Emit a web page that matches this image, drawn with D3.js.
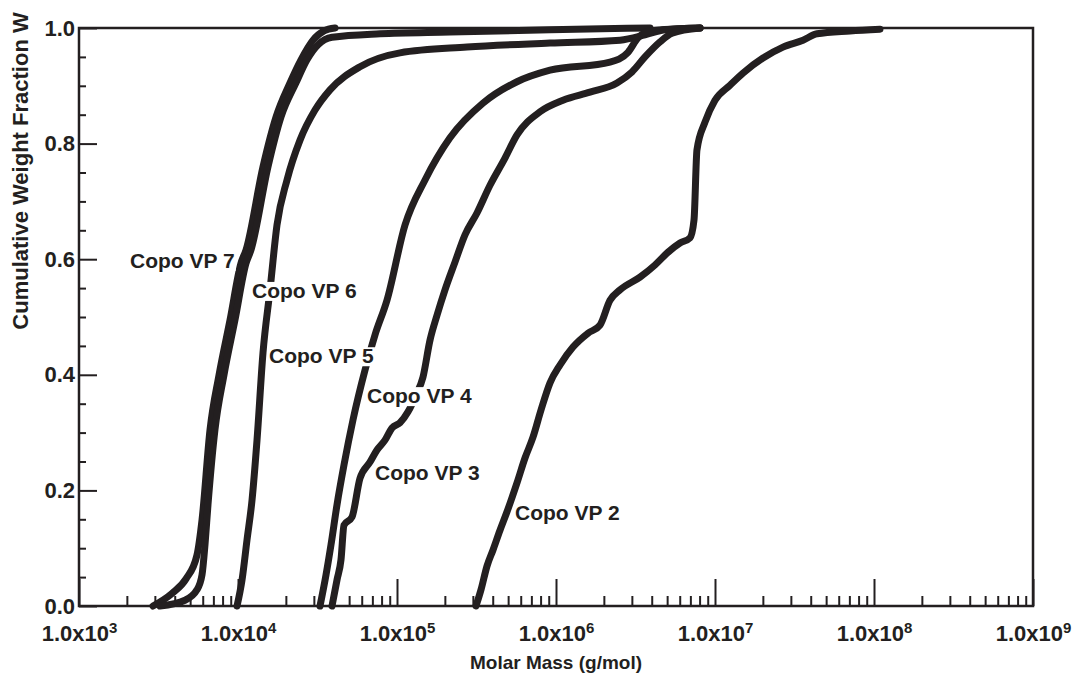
<!DOCTYPE html>
<html>
<head>
<meta charset="utf-8">
<script src="https://cdn.jsdelivr.net/npm/d3@7"></script>
<style>
  body { margin: 0; background: #fff; }
  svg { display: block; font-family: "Liberation Sans", Arial, sans-serif; font-weight: bold; }
</style>
</head>
<body>
<svg id="chart" width="1078" height="677"></svg>
<script>
// [molar mass g/mol, cumulative weight fraction]
const vp7 = [
  [2920, 0], [3850, 0.022], [4710, 0.047], [5520, 0.088], [5940, 0.149], [6670, 0.305],
  [7600, 0.400], [8910, 0.495], [10440, 0.593], [11230, 0.616], [14360, 0.760], [17340, 0.846],
  [21230, 0.905], [24900, 0.945], [29630, 0.979], [34740, 0.995], [40750, 1.0]
];
const vp6 = [
  [3230, 0], [4640, 0.010], [5520, 0.028], [5940, 0.054], [6200, 0.106], [6475, 0.175],
  [7165, 0.305], [8165, 0.400], [9575, 0.495], [11230, 0.593], [12070, 0.616], [15445, 0.760],
  [18640, 0.846], [23160, 0.905], [27160, 0.945], [31860, 0.971], [39010, 0.984], [78200, 0.990],
  [215400, 0.993], [917000, 0.997], [3.9e6, 1.0]
];
const vp5 = [
  [9860, 0], [10600, 0.045], [11390, 0.114], [12250, 0.183], [13170, 0.287], [14360, 0.438],
  [15900, 0.547], [17590, 0.659], [20330, 0.737], [24550, 0.806], [30500, 0.858], [37900, 0.893],
  [58520, 0.933], [104400, 0.957], [275600, 0.967], [917000, 0.974], [2.53e6, 0.979],
  [3.63e6, 0.988], [4.85e6, 0.997], [8.05e6, 1.0]
];
const vp4 = [
  [32790, 0], [35770, 0.054], [38450, 0.106], [41940, 0.175], [46420, 0.244], [52880, 0.322],
  [62920, 0.408], [72710, 0.469], [86500, 0.529], [112300, 0.659], [150100, 0.737],
  [215400, 0.810], [347400, 0.870], [568400, 0.907], [917000, 0.927], [2.186e6, 0.941],
  [2.837e6, 0.958], [3.278e6, 0.983], [3.9e6, 0.995], [8.05e6, 1.0]
];
const vp3 = [
  [39010, 0], [41940, 0.045], [44440, 0.080], [46420, 0.140], [52120, 0.154], [58520, 0.221],
  [67640, 0.249], [74840, 0.270], [84040, 0.287], [93020, 0.308], [104400, 0.317],
  [117300, 0.336], [131700, 0.365], [145700, 0.396], [161300, 0.460], [178500, 0.503],
  [200400, 0.547], [231600, 0.595], [267700, 0.642], [318500, 0.680], [384500, 0.728],
  [477700, 0.775], [568400, 0.815], [793200, 0.855], [1.107e6, 0.875], [1.636e6, 0.889],
  [2.419e6, 0.905], [3.006e6, 0.924], [3.628e6, 0.950], [4.51e6, 0.976], [5.365e6, 0.991],
  [8.05e6, 1.0]
];
const vp2 = [
  [314000, 0], [337500, 0.028], [368100, 0.069], [401700, 0.097], [444400, 0.131],
  [491800, 0.163], [568400, 0.213], [638300, 0.256], [716700, 0.292], [804900, 0.339],
  [917000, 0.386], [1.06e6, 0.417], [1.279e6, 0.448], [1.59e6, 0.472], [1.891e6, 0.486],
  [2.186e6, 0.529], [2.526e6, 0.547], [3.376e6, 0.569], [4.195e6, 0.590], [5.063e6, 0.612],
  [6.025e6, 0.628], [6.964e6, 0.637], [7.38e6, 0.668], [7.70e6, 0.789], [8.65e6, 0.837],
  [1.0e7, 0.875], [1.243e7, 0.901], [1.5e7, 0.922], [2.004e7, 0.948], [2.677e7, 0.967],
  [3.577e7, 0.979], [4.38e7, 0.990], [7.07e7, 0.995], [1.09e8, 0.998]
];

const series = [vp7, vp6, vp5, vp4, vp3, vp2];
const seriesNames = ['Copo VP 7', 'Copo VP 6', 'Copo VP 5', 'Copo VP 4', 'Copo VP 3', 'Copo VP 2'];

// where each label sits (mass, fraction at baseline)
const labelMass = [2094, 12250, 15670, 64760, 72710, 552300];
const labelFraction = [0.585, 0.533, 0.420, 0.351, 0.218, 0.149];

const xTickValues = [1e3, 1e4, 1e5, 1e6, 1e7, 1e8, 1e9];
const yTickValues = [0, 0.2, 0.4, 0.6, 0.8, 1.0];

const ink = '#231f20';
const margin = { top: 28, left: 79 };
const width = 954;
const height = 578;

const svg = d3.select('#chart');
const g = svg.append('g')
    .attr('transform', `translate(${margin.left},${margin.top})`);

const x = d3.scaleLog().domain([1e3, 1e9]).range([0, width]);
const y = d3.scaleLinear().domain([0, 1]).range([height, 0]);

// minor ticks
const xMinor = d3.range(3, 9).flatMap((e) => d3.range(2, 10).map((m) => m * 10 ** e));
const yMinor = d3.range(0, 21).map((i) => i / 20).filter((v) => Math.round(v * 20) % 4 !== 0);

const styleAxis = (a) => {
  a.select('.domain').remove();
  a.attr('font-family', null).attr('font-size', 22);
  a.selectAll('.tick line').attr('stroke', ink).attr('stroke-width', 2);
  a.selectAll('.tick text').attr('fill', ink);
};

g.append('g')
    .attr('transform', `translate(0,${height})`)
    .call(d3.axisBottom(x).tickValues(xMinor).tickSize(-10).tickFormat(() => ''))
    .call(styleAxis);

g.append('g')
    .attr('transform', `translate(0,${height})`)
    .call(d3.axisBottom(x).tickValues(xTickValues).tickSize(-27).tickPadding(19).tickFormat(() => ''))
    .call(styleAxis)
    .call((a) => a.selectAll('.tick text').each(function(d) {
      const t = d3.select(this);
      t.append('tspan').text('1.0x10');
      t.append('tspan')
          .attr('dy', '-0.5em')
          .attr('font-size', 15)
          .text(Math.round(Math.log10(d)));
    }));

g.append('g')
    .call(d3.axisLeft(y).tickValues(yMinor).tickSize(-7).tickFormat(() => ''))
    .call(styleAxis);

g.append('g')
    .call(d3.axisLeft(y).tickValues(yTickValues).tickSize(-18).tickPadding(4).tickFormat(d3.format('.1f')))
    .call(styleAxis);

// frame
g.append('rect')
    .attr('width', width)
    .attr('height', height)
    .attr('fill', 'none')
    .attr('stroke', ink)
    .attr('stroke-width', 2.5);

// curves
const line = d3.line()
    .x(([m]) => x(m))
    .y(([, w]) => y(w))
    .curve(d3.curveMonotoneX);

g.append('g')
  .selectAll('path')
  .data(series)
  .join('path')
    .attr('d', line)
    .attr('fill', 'none')
    .attr('stroke', ink)
    .attr('stroke-width', 7)
    .attr('stroke-linejoin', 'round')
    .attr('stroke-linecap', 'round');

// series labels with white knockout
const labels = g.append('g')
  .selectAll('g')
  .data(seriesNames)
  .join('g')
    .attr('transform', (d, i) => `translate(${x(labelMass[i])},${y(labelFraction[i])})`);

labels.append('text')
    .text((d) => d)
    .attr('font-size', 21)
    .attr('fill', ink)
    .each(function() {
      const bbox = this.getBBox();
      const padding = 1;
      d3.select(this.parentNode)
        .insert('rect', 'text')
          .attr('x', bbox.x - padding)
          .attr('y', bbox.y + 3)
          .attr('width', bbox.width + padding * 2)
          .attr('height', bbox.height - 4)
          .attr('fill', '#fff');
    });

// axis titles
svg.append('text')
    .attr('transform', `translate(28,171) rotate(-90)`)
    .attr('text-anchor', 'middle')
    .attr('font-size', 22)
    .attr('fill', ink)
    .text('Cumulative Weight Fraction W');

svg.append('text')
    .attr('x', margin.left + width / 2)
    .attr('y', 669)
    .attr('text-anchor', 'middle')
    .attr('font-size', 19)
    .attr('fill', ink)
    .text('Molar Mass (g/mol)');
</script>
</body>
</html>
